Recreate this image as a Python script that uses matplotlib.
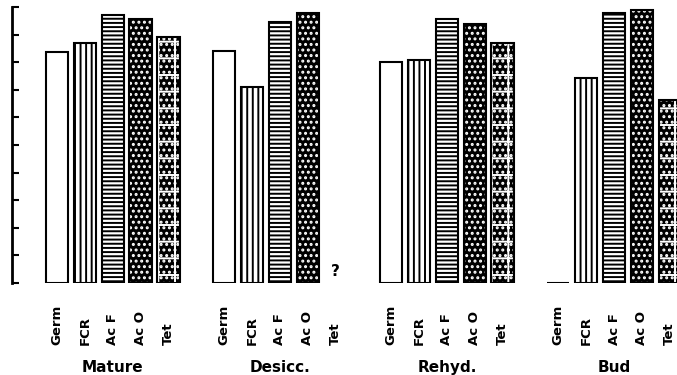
import numpy as np
import matplotlib
matplotlib.use('Agg')
import matplotlib.pyplot as plt

# Relative values per tissue stage (axis runs 0-10, unlabelled)
stages = ['Mature', 'Desicc.', 'Rehyd.', 'Bud']
treatments = ['Germ', 'FCR', 'Ac F', 'Ac O', 'Tet']
mature = [8.37, 8.70, 9.71, 9.55, 8.92]
desicc = [8.42, 7.11, 9.46, 9.79, np.nan]   # Tet not measured -> "?"
rehyd = [8.00, 8.07, 9.55, 9.37, 8.71]
bud = [0.0, 7.42, 9.77, 9.89, 6.63]
values = [mature, desicc, rehyd, bud]

plt.rcParams['hatch.linewidth'] = 1.4

# fill style per treatment: (face colour, hatch, hatch colour)
styles = [
    ('white', None, 'black'),
    ('white', '|||', 'black'),
    ('white', '----', 'black'),
    ('black', '...', 'white'),
    ('black', '+...', 'white'),
]

fig = plt.figure(figsize=(6.77, 3.75), dpi=100)
ax = fig.add_axes([12 / 677, 92 / 375, 665 / 677, 276 / 375])

slot = 27.85
x0 = 57.0
group_gap = 6
width = 0.8

for g, (stage, vals) in enumerate(zip(stages, values)):
    xs = g * group_gap + np.arange(len(treatments))
    for x, v, (fc, hatch, hc) in zip(xs, vals, styles):
        if np.isnan(v):
            ax.text(x, 0.15, '?', ha='center', va='bottom', fontsize=11,
                    fontweight='bold')
            continue
        ax.bar(x, v, width=width, color=fc, edgecolor=hc, hatch=hatch,
               linewidth=0)
        ax.bar(x, v, width=width, fill=False, edgecolor='black', linewidth=1.5)
    for x, name in zip(xs, treatments):
        ax.text(x, -0.225, name, transform=ax.get_xaxis_transform(),
                rotation=90, ha='center', va='bottom', fontsize=9.5,
                fontweight='bold')
    ax.text(xs[2], -0.305, stage, transform=ax.get_xaxis_transform(),
            ha='center', va='center', fontsize=11, fontweight='bold')

ax.set_xlim((12 - x0) / slot, (677 - x0) / slot)
ax.set_ylim(0, 10)
ax.set_yticks(np.arange(0, 11, 1))
ax.set_yticklabels([])
ax.tick_params(axis='y', direction='in', length=5, width=1.5)
ax.set_xticks([])
for s in ['top', 'right', 'bottom']:
    ax.spines[s].set_visible(False)
ax.spines['left'].set_linewidth(2)

fig.savefig('out.png', dpi=100)
